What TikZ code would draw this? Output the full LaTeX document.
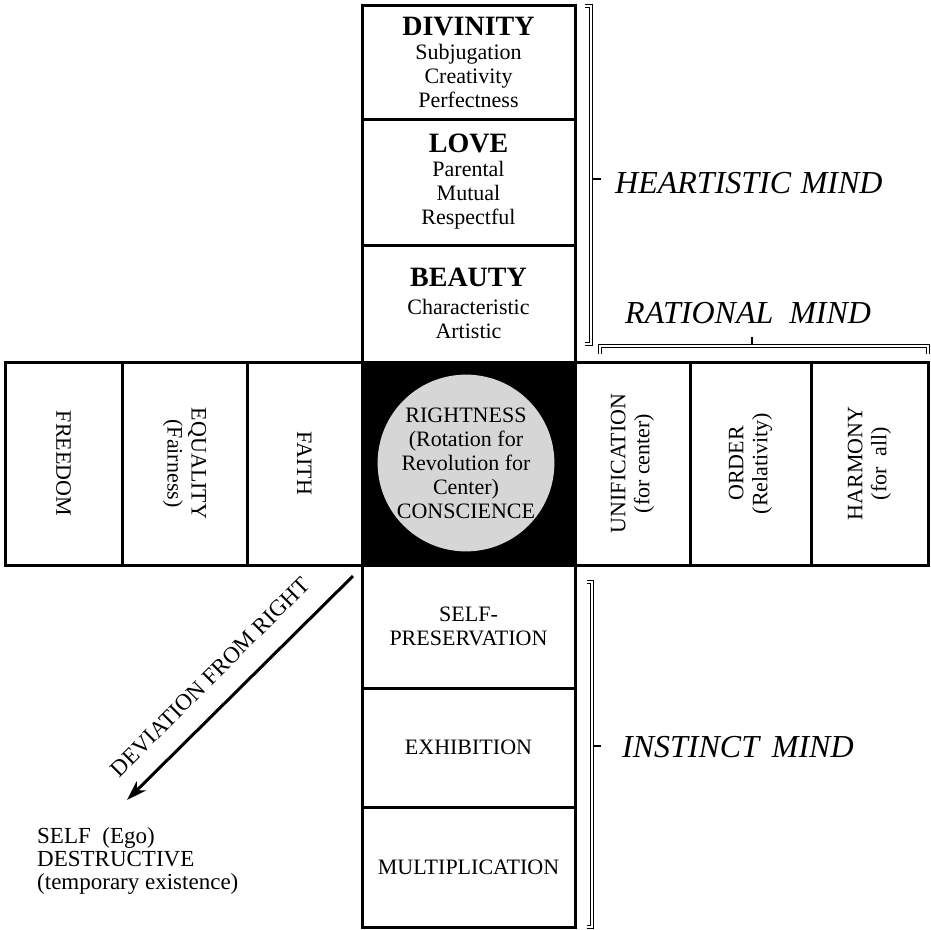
\documentclass[tikz,border=0pt]{standalone}
\usepackage{fontspec}
\setmainfont{Liberation Serif}
\usetikzlibrary{arrows.meta}
\newcommand\tzSub{\fontsize{22}{24}\selectfont}
\newcommand\tzTitle{\fontsize{28}{30}\selectfont\bfseries}
\newcommand\tzMind{\fontsize{32}{34}\selectfont\itshape}
\begin{document}
\begin{tikzpicture}[x=1pt,y=-1pt,
  box/.style={draw=black, line width=3pt, fill=white, align=center, inner sep=0pt, font=\tzSub, text=black},
  bracket/.style={draw=black, double=white, line width=0.9pt, double distance=2pt},
  tickline/.style={draw=black, line width=1.2pt},
  mind/.style={font=\tzMind, inner sep=0pt}]
\useasboundingbox (0,0) rectangle (930,930);
\fill[white] (0,0) rectangle (930,930);

% top column
\node[box, minimum width=213pt, minimum height=114pt] (divinity) at (468.5,62)
  {{\tzTitle DIVINITY}\\ Subjugation\\ Creativity\\ Perfectness};
\node[box, minimum width=213pt, minimum height=126pt] (love) at (468.5,182)
  {{\tzTitle LOVE}\\ Parental\\ Mutual\\ Respectful};
\node[box, minimum width=213pt, minimum height=117pt] (beauty) at (468.5,303.5)
  {{\tzTitle BEAUTY}\\[4pt] Characteristic\\ Artistic};

% left row
\node[box, rotate=-90, minimum width=203pt, minimum height=117pt] (freedom) at (63.5,463.5) {FREEDOM};
\node[box, rotate=-90, minimum width=203pt, minimum height=125pt] (equality) at (184.5,463.5) {EQUALITY\\(Fairness)};
\node[box, rotate=-90, minimum width=203pt, minimum height=115pt] (faith) at (304.5,463.5) {FAITH};

% right row
\node[box, rotate=90, minimum width=203pt, minimum height=115pt] (unification) at (632.5,463.5) {UNIFICATION\\(for center)};
\node[box, rotate=90, minimum width=203pt, minimum height=121pt] (order) at (750.5,463.5) {ORDER\\(Relativity)};
\node[box, rotate=90, minimum width=203pt, minimum height=117pt] (harmony) at (869.5,463.5) {HARMONY\\(for\enspace all)};

% bottom column
\node[box, minimum width=213pt, minimum height=123pt] (selfpres) at (468.5,626.5) {SELF-\\PRESERVATION};
\node[box, minimum width=213pt, minimum height=119pt] (exhibition) at (468.5,747.5) {EXHIBITION};
\node[box, minimum width=213pt, minimum height=120pt] (multiplication) at (468.5,867) {MULTIPLICATION};

% center
\node[draw=black, fill=black, line width=3pt, minimum width=213pt, minimum height=203pt, inner sep=0pt] (center) at (468.5,463.5) {};
\node[circle, fill=gray!32, minimum size=166pt, inner sep=0pt, align=center, font=\tzSub, text=black] (rightness) at (466,463)
  {RIGHTNESS\\(Rotation for\\Revolution for\\Center)\\CONSCIENCE};

% heartistic bracket
\coordinate (hA) at (585,6);
\coordinate (hB) at (591,6);
\coordinate (hC) at (591,344);
\coordinate (hD) at (585,344);
\coordinate (hM) at (593,179);
\coordinate (hT) at (601,179);
\draw[bracket] (hA) -- (hB) -- (hC) -- (hD);
\draw[tickline] (hM) -- (hT);
\node[mind, anchor=base west] (heart) at (615,193) {HEARTISTIC\hspace{0.3em}MIND};

% rational bracket
\coordinate (rA) at (600,354);
\coordinate (rB) at (600,346);
\coordinate (rC) at (928,346);
\coordinate (rD) at (928,354);
\coordinate (rM) at (752,344);
\coordinate (rT) at (752,337);
\draw[bracket] (rA) -- (rB) -- (rC) -- (rD);
\draw[tickline] (rM) -- (rT);
\node[mind, anchor=base west] (rational) at (625,323) {RATIONAL\hspace{0.5em}MIND};

% instinct bracket
\coordinate (iA) at (587,582);
\coordinate (iB) at (592,582);
\coordinate (iC) at (592,927);
\coordinate (iD) at (587,927);
\coordinate (iM) at (594,746);
\coordinate (iT) at (601,746);
\draw[bracket] (iA) -- (iB) -- (iC) -- (iD);
\draw[tickline] (iM) -- (iT);
\node[mind, anchor=base west] (instinct) at (622,757) {INSTINCT\hspace{0.4em}MIND};

% deviation arrow
\coordinate (devS) at (353,576);
\coordinate (devE) at (127,800);
\draw[line width=3pt, -{Stealth[length=20pt,width=13pt,inset=6pt]}] (devS) -- (devE);
\node[font=\fontsize{23}{24}\selectfont, rotate=45, inner sep=0pt] (devlabel) at (210,677) {DEVIATION FROM RIGHT};

\node[font=\fontsize{23}{23}\selectfont, align=left, anchor=north west, inner sep=0pt] (self) at (37,827)
  {SELF\ \ (Ego)\\DESTRUCTIVE\\(temporary existence)};
\end{tikzpicture}
\end{document}
